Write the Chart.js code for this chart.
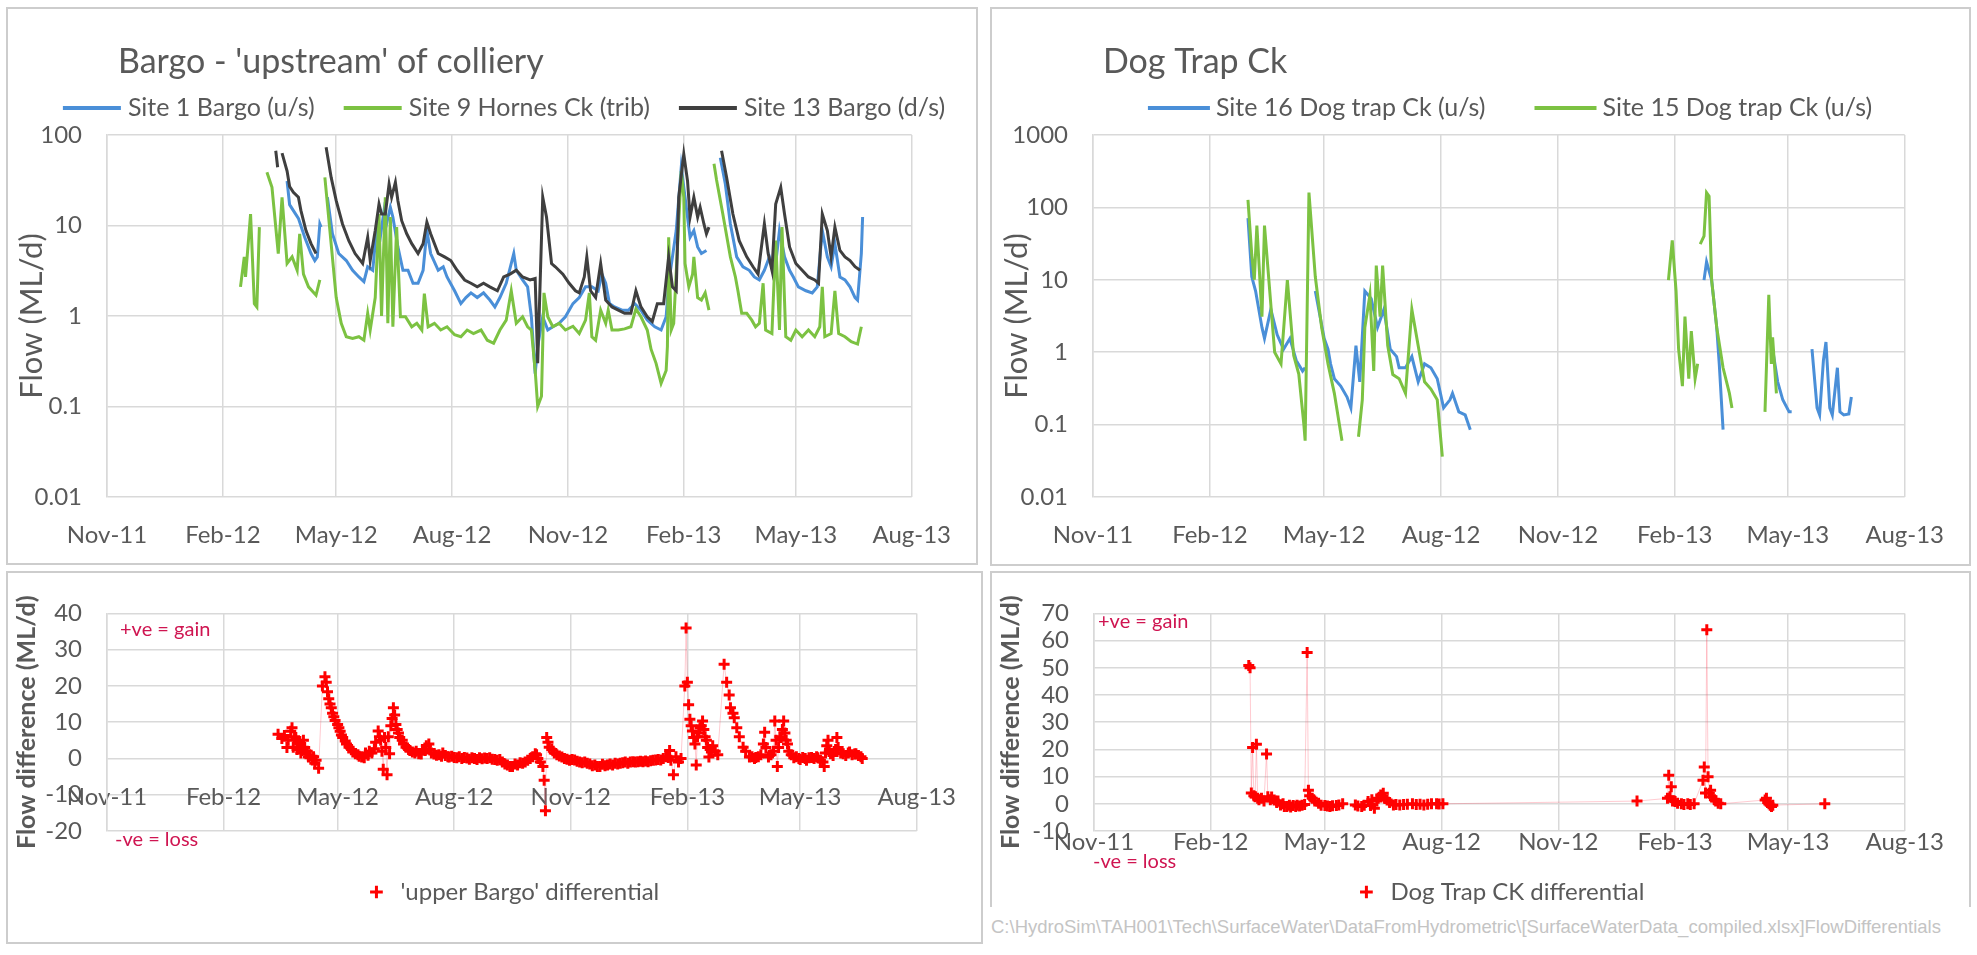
<!DOCTYPE html>
<html lang="en">
<head>
<meta charset="UTF-8">
<title>Flow differentials</title>
<script src="https://cdn.jsdelivr.net/npm/chart.js"></script>
<style>
  body { margin: 0; width: 1977px; height: 955px; background: #fff; position: relative; overflow: hidden; }
  .panel { position: absolute; border: 2px solid #cdcdcd; box-sizing: border-box; }
  canvas { position: absolute; }
  #footer { position: absolute; left: 991px; top: 916px; font: 18.5px 'Liberation Sans Narrow', 'Liberation Sans', sans-serif; color: #c4c4c4; white-space: nowrap; }
</style>
</head>
<body>
<div class="panel" style="left:6px;top:7px;width:972px;height:558px"></div>
<div class="panel" style="left:990px;top:7px;width:981px;height:559px"></div>
<div class="panel" style="left:6px;top:571px;width:977px;height:373px"></div>
<div class="panel" style="left:990px;top:571px;width:981px;height:336px;border-bottom:none"></div>

<canvas id="bargoFlow" width="966" height="552" style="left:9px;top:10px"></canvas>
<canvas id="dogFlow" width="974" height="552" style="left:994px;top:10px"></canvas>
<canvas id="bargoDiff" width="970" height="340" style="left:10px;top:574px"></canvas>
<canvas id="dogDiff" width="974" height="340" style="left:994px;top:574px"></canvas>

<div id="footer">C:\HydroSim\TAH001\Tech\SurfaceWater\DataFromHydrometric\[SurfaceWaterData_compiled.xlsx]FlowDifferentials</div>

<script>
    // x values are days counted from 1 Nov 2011
    const monthLabels = ['Nov-11', 'Feb-12', 'May-12', 'Aug-12', 'Nov-12', 'Feb-13', 'May-13', 'Aug-13'];
    const monthStarts = ['2011-11-01', '2012-02-01', '2012-05-01', '2012-08-01', '2012-11-01', '2013-02-01', '2013-05-01', '2013-08-01'];
    const bargoLogTicks = [0.01, 0.1, 1, 10, 100];
    const dogLogTicks = [0.01, 0.1, 1, 10, 100, 1000];

    // [day, ML/d] - null = no record
    const site1Bargo = [[143,31],[145,17],[148,14.6],[152,12],[157,7.4],[162,4.9],[165,4.1],[167,4.5],[169,10.4],[170,9.6],[172,null],
        [175,20.5],[179,8.1],[184,4.9],[190,4.1],[195,3.2],[200,2.7],[204,2.4],[207,3.5],[211,3.2],[214,8.8],[217,7.4],[220,14.6],[222,10.4],[225,15.9],[227,12.4],[231,5.8],[235,3.2],[239,3.2],[243,2.3],[247,2.3],[251,3.2],[254,8.8],[257,4.9],[263,3.2],[267,3.5],[270,2.7],[276,1.9],[281,1.37],[285,1.6],[289,1.8],[294,1.6],[299,1.8],[304,1.5],[308,1.26],[312,1.6],[317,2.3],[323,4.9],[325,3.2],[330,2.5],[334,2.1],[337,0.98],[340,0.23],[342,0.46],[346,0.98],[350,0.7],[354,0.76],[359,0.83],[364,0.98],[370,1.37],[375,1.6],[380,2.1],[385,2.1],[390,1.9],[393,2.9],[396,2.3],[399,1.37],[403,1.26],[409,1.16],[414,1.16],[419,1.37],[424,1.16],[429,0.9],[435,0.76],[440,0.7],[444,0.98],[446,2.3],[449,4.5],[452,8.8],[456,44],[459,20.5],[463,7.4],[466,8.8],[469,5.8],[472,4.9],[476,5.3],[481,null],
        [487,56],[491,28.7],[495,10.4],[500,4.5],[505,3.5],[510,3.2],[514,2.7],[518,2.5],[522,3.2],[526,4.5],[530,2.9],[534,8.8],[538,4.5],[542,3.2],[545,2.7],[549,2.1],[555,1.9],[560,1.8],[564,2.1],[568,8.8],[572,4.5],[575,3.5],[578,6.3],[582,2.7],[586,2.5],[590,2.1],[594,1.6],[596,1.5],[599,4.9],[600,12.4]];

    const site9Hornes = [[106,2.1],[109,4.5],[110,2.7],[114,13.4],[117,1.37],[119,1.26],[121,9.6],[124,null],
        [127,38.7],[131,26.4],[136,4.9],[139,20.5],[143,3.8],[147,4.5],[151,3.2],[153,8.1],[156,2.9],[160,2.1],[166,1.7],[169,2.5],[171,null],
        [173,34],[177,8.8],[182,1.6],[186,0.83],[190,0.59],[195,0.565],[200,0.59],[204,0.54],[207,1.07],[209,0.7],[213,1.6],[216,13.4],[218,1.0],[221,20.5],[223,0.83],[225,12.4],[227,0.76],[230,9.6],[233,0.98],[237,0.98],[242,0.76],[246,0.83],[250,0.7],[252,1.77],[255,0.76],[260,0.83],[265,0.7],[270,0.76],[276,0.62],[281,0.59],[286,0.7],[291,0.64],[297,0.7],[302,0.54],[307,0.5],[312,0.7],[317,0.9],[321,1.9],[325,0.83],[330,0.98],[334,0.76],[337,0.7],[340,0.25],[342,0.1],[345,0.13],[347,1.8],[350,0.98],[354,0.76],[359,0.83],[364,0.7],[370,0.77],[375,0.64],[380,0.9],[383,1.8],[385,0.59],[388,0.54],[392,1.16],[396,0.83],[398,1.16],[401,0.7],[406,0.7],[411,0.72],[416,0.76],[420,1.2],[424,0.98],[429,0.7],[432,0.43],[436,0.3],[440,0.18],[444,0.25],[445,0.46],[446,7.4],[448,0.7],[450,0.83],[456,40],[458,20.5],[459,3.8],[462,2.1],[465,2.9],[466,4.5],[469,1.6],[472,1.5],[475,1.8],[478,1.16],[480,null],
        [482,48],[484,32],[489,13.4],[495,4.5],[499,2.7],[501,1.9],[504,1.07],[508,1.07],[512,0.9],[515,0.76],[518,0.83],[521,2.3],[523,0.7],[528,0.64],[531,6.8],[534,0.7],[536,9.6],[539,0.59],[543,0.54],[547,0.7],[552,0.59],[557,0.7],[562,0.59],[566,0.76],[568,2.1],[570,0.59],[575,0.64],[578,1.9],[581,0.64],[586,0.59],[591,0.52],[596,0.49],[599,0.76]];

    const site13Bargo = [[134,67],[135.5,44],[137,null],[139,63],[143,40],[145,27],[148,23.3],[152,20.5],[154,14.6],[158,8.8],[162,6.3],[166,4.9],[170,null],
        [174,73],[178,34],[182,18.8],[187,10.4],[192,6.8],[197,4.9],[203,3.8],[207,7.4],[209,4.1],[213,8.8],[216,17.3],[218,13.4],[221,13.4],[224,28.7],[226,20.5],[229,30],[231,18.8],[234,11.3],[238,8.1],[242,6.3],[247,4.9],[251,6.3],[254,10.9],[257,8.1],[263,4.9],[268,4.5],[273,4.1],[278,3.2],[284,2.5],[289,2.3],[294,2.1],[299,2.3],[304,2.1],[310,1.9],[315,2.7],[320,2.9],[325,3.2],[330,2.7],[336,2.5],[340,2.6],[342,0.3],[346,20.5],[349,12.4],[353,3.8],[356,3.5],[362,2.9],[367,2.3],[372,1.9],[375,1.8],[379,2.7],[381,4.5],[384,1.9],[388,1.6],[392,3.8],[396,1.5],[401,1.26],[406,1.16],[411,1.07],[416,1.07],[420,1.9],[424,1.26],[429,0.98],[433,0.87],[437,1.37],[442,1.37],[446,4.5],[449,2.1],[452,1.9],[454,20.5],[458,61.5],[461,31],[463,12.4],[466,20.5],[469,12.4],[471,15.9],[474,10.4],[476,8.1],[478,9.6],[482,null],
        [488,67],[492,34],[497,13.4],[502,6.8],[508,4.5],[513,3.5],[517,2.9],[519,4.9],[522,10.4],[525,4.9],[528,3.2],[531,17.3],[535,26.4],[538,13.4],[542,5.8],[547,3.8],[552,3.2],[557,2.7],[562,2.5],[565,2.3],[568,13.4],[572,8.8],[575,4.5],[578,9.6],[582,5.3],[586,4.5],[590,4.1],[594,3.5],[598,3.2]];

    const site16DogTrap = [[122,71],[125,11],[128,7],[133,2.2],[135,1.55],[140,3.9],[145,1.74],[150,1.1],[155,1.55],[160,0.77],[165,0.55],[167,0.61],[171,null],
        [175,7],[182,1.55],[185,1.1],[187,0.69],[190,0.43],[195,0.34],[200,0.24],[203,0.17],[207,1.23],[210,0.39],[214,7],[219,5.5],[224,2.2],[229,3.9],[234,1.1],[239,0.87],[241,0.61],[246,0.61],[251,0.87],[256,0.39],[261,0.69],[266,0.61],[271,0.43],[276,0.17],[281,0.22],[283,0.27],[288,0.15],[293,0.136],[297,0.085],[300,null],
        [481,9.9],[483,17.7],[487,9.9],[491,2.2],[493,0.69],[496,0.085],[500,null],
        [535,1.1],[539,0.39],[543,0.22],[548,0.15],[550,0.15],[558,null],
        [566,1.1],[570,0.17],[572,0.136],[575,0.77],[577,1.38],[580,0.17],[582,0.136],[586,0.61],[588,0.15],[591,0.136],[595,0.14],[597,0.24]];

    const site15DogTrap = [[122,127],[125,22],[127,10],[129,56],[133,3.1],[135,56],[143,1.0],[148,0.69],[153,9.9],[158,0.9],[162,0.5],[166,0.1],[167,0.06],[170,160],[175,11],[180,2.2],[185,0.69],[190,0.27],[196,0.06],[202,null],
        [209,0.068],[212,0.22],[214,2.2],[218,6.2],[221,0.55],[223,15.7],[226,3.1],[228,15.7],[232,1.23],[236,0.49],[241,0.43],[246,0.27],[251,3.9],[256,1.23],[261,0.39],[266,0.31],[271,0.22],[275,0.036],[300,null],
        [453,9.9],[456,35],[459,7],[461,1.1],[464,0.34],[466,3.1],[469,0.43],[471,1.95],[474,0.43],[476,0.69],[477,null],
        [478,31],[481,40],[483,160],[485,143],[487,9.9],[491,2.2],[496,0.61],[501,0.27],[503,0.17],[515,null],
        [529,0.15],[532,6.2],[534,0.69],[535,1.6],[538,0.27]];

    const upperBargoDiff = [[135,6.7],[138,5.5],[140,6.3],[142,3],[143,5],[145,7.5],[146,8.5],[147,3.1],[148,6],[149,5.8],[150,2.5],[151,4.5],[152,4],[153,1.5],[154,2.2],[155,5],[156,3],[157,1.3],[158,2],[159,0.4],[160,1],[162,-0.4],[163,0.5],[164,-1.3],[165,-0.5],[167,-2.7],
        [170,20],[172,22.5],[173,21],[174,18.4],[175,16.5],[176,15],[177,14],[178,12.5],[179,11.5],[180,10.5],[182,9.4],[183,8.5],[184,7.5],[185,6.5],[186,5.8],[188,4.8],[189,4],[191,3.1],[193,2.5],[194,1.8],[196,1.3],[198,1],[199,0.6],[201,0.4],[203,0.2],[204,1.5],[206,0.9],[207,2],[209,1.5],[211,2.7],[212,4.5],[214,7.6],[215,6],[216,5],[217,2],[218,-3],[219,5.8],[220,3],[221,-4.5],[222,6],[223,1.3],[224,9],[225,11],[226,14],[227,12],[228,9.4],[229,8],[230,7],[231,5.8],[233,5],[234,4],[236,3.1],[238,2.5],[239,2.2],[241,1.8],[243,1.5],[244,2],[246,1.3],[248,1.2],[249,2.5],[251,2.2],[252,3.5],[254,4],[255,2.5],[256,1.5],[258,1.2],[260,0.9],[262,1],[264,0.6],[265,1.5],[267,0.8],[269,0.5],[270,0.4],[272,0.6],[274,0.3],[276,0.2],[278,0.5],[280,0],[282,0.3],[284,0.1],[286,-0.2],[288,0.2],[290,0],[292,-0.3],[294,0.2],[296,-0.1],[298,0.1],[300,0],[302,0.2],[304,-0.2],[306,-0.3],[308,-0.5],[310,-0.3],[312,-1],[314,-1.5],[316,-1.8],[318,-2.2],[320,-2.2],[322,-1.5],[324,-1.8],[326,-1.2],[328,-1.3],[330,-1],[332,-0.5],[334,0],[336,0.5],[338,1.3],[339,1],[340,0],[342,-1],[344,-2.2],[345,-6],[346,-14.4],[347,5.8],[348,4.5],[349,3.1],[351,2.5],[353,1.5],[355,1],[357,0.7],[359,0.4],[361,0],[363,-0.2],[365,-0.5],[367,-0.3],[369,-0.4],[371,-0.8],[373,-1],[375,-1.2],[377,-1],[379,-1.3],[381,-1.5],[383,-2],[385,-1.8],[387,-2.2],[389,-2.2],[391,-1.6],[393,-2],[395,-1.8],[397,-1.5],[399,-1.8],[401,-1.3],[403,-1.5],[405,-1.3],[407,-1.2],[409,-1],[411,-1.3],[413,-1],[415,-0.9],[417,-1],[419,-0.9],[421,-0.8],[423,-0.9],[425,-0.7],[427,-0.9],[429,-0.6],[431,-0.5],[433,-0.4],[435,-0.3],[437,-0.4],[439,0],[441,0.5],[443,0.3],[444,2.2],[445,-0.5],[447,-4.5],[449,0.5],[451,-1],[453,0],
        [456,20],[457,36],[458,21],[459,14.8],[460,10.8],[461,9],[462,7.6],[463,5.8],[464,4],[465,-1.8],[466,6],[467,7],[468,8.5],[469,9],[470,10.3],[471,8],[472,6],[473,5],[474,3],[475,0.4],[476,2.5],[477,1.8],[478,3.5],[480,2],[482,1],
        [487,26],[489,21],[491,17.5],[492,14],[494,12.5],[495,11.2],[497,8.5],[499,6],[502,3.1],[504,2],[507,0.4],[509,0.5],[511,0],[512,0.3],[514,0.5],[516,1],[518,4],[519,7.2],[520,3],[522,0.4],[524,1],[526,2],[527,10.3],[528,5],[529,-2.2],[530,3],[531,6],[532,5.8],[533,8],[534,10.3],[535,7],[536,5],[537,4],[538,2],[540,1],[542,0.2],[544,0.5],[546,0],[547,-0.3],[549,0.3],[551,0],[552,-0.5],[554,0.2],[556,0.3],[558,0],[560,0.5],[561,0.2],[563,-0.5],[565,-1],[566,-2.2],[567,1.5],[568,3.5],[569,5],[570,2],[571,1.3],[573,0.8],[575,2.5],[576,5.8],[577,3],[579,1.5],[581,1.3],[583,0.8],[585,1.5],[586,1.8],[588,1],[590,1.2],[591,1.3],[593,0.8],[595,0.5],[596,0]];

    const dogTrapDiff = [[122,50.8],[123,50],[124,4],[125,20.7],[126,3],[127,2.6],[128,21.9],[129,2],[130,1.5],[132,2],[134,1],[136,18.3],[137,2.6],[139,1.5],[140,2.5],[142,1.4],[144,0.5],[145,1],[147,-0.4],[149,0],[150,-1],[152,-1],[154,-0.5],[155,-1.2],[157,-0.6],[159,-1],[160,-0.5],[162,-0.8],[164,-0.5],[166,-0.3],[168,55.6],[169,5],[170,3],[172,2],[174,1],[177,0.2],[179,-0.5],[182,-0.6],[184,-0.8],[186,-1],[188,-0.7],[191,-0.6],[193,-0.4],[196,0],[206,-0.4],[208,-0.8],[211,-1],[213,-0.5],[216,0.8],[218,-0.6],[219,1.5],[221,-1.6],[223,1],[224,2],[226,3.2],[228,3.9],[229,2],[231,1.4],[233,0.5],[236,-0.4],[238,-0.3],[241,-0.4],[244,-0.3],[247,-0.2],[251,0],[254,-0.3],[257,-0.2],[260,-0.4],[263,-0.2],[266,0],[270,0],[272,-0.1],[275,0],[428,1],
        [452,2],[453,10.5],[454,2.6],[455,6.3],[456,1],[458,0.8],[460,0.2],[463,0],[465,-0.3],[468,0],[470,-0.3],[473,0],[480,8.7],[481,13.5],[482,4],[483,64],[484,9.9],[485,3.9],[486,5],[487,2.6],[489,1.5],[490,1],[492,0.2],[494,0],[529,1.4],[530,2],[531,0.5],[532,0],[533,-0.5],[534,-1],[535,-0.5],[576,0]];

    const GRID = '#d9d9d9';
    const TEXT = '#595959';
    const NOTE = '#cf1551';
    const FONT = 'Lato, "Open Sans", sans-serif';

    Chart.defaults.font.family = FONT;
    Chart.defaults.color = TEXT;
    Chart.defaults.animation = false;

    const tickDays = monthStarts.map(d => (Date.parse(d) - Date.parse(monthStarts[0])) / 864e5);
    const toXY = pairs => pairs.map(([x, y]) => ({ x, y }));

    // plain text written straight on the canvas (titles, gain/loss notes)
    const notesPlugin = {
        id: 'notes',
        afterDraw(chart, args, opts) {
            const ctx = chart.ctx;
            (opts.items || []).forEach(n => {
                ctx.save();
                ctx.font = `${n.size}px ${FONT}`;
                ctx.fillStyle = n.color;
                ctx.textBaseline = n.baseline || 'middle';
                ctx.fillText(n.text, n.x, n.y);
                ctx.restore();
            });
        }
    };

    // one-row legend with line swatches, centred on opts.cx
    const lineLegendPlugin = {
        id: 'lineLegend',
        afterDraw(chart, args, opts) {
            if (!opts.cx) return;
            const ctx = chart.ctx;
            ctx.save();
            ctx.font = `${opts.size}px ${FONT}`;
            const items = chart.data.datasets.map(ds => ({
                text: ds.label,
                color: ds.borderColor,
                w: opts.swatch + opts.textGap + ctx.measureText(ds.label).width
            }));
            const total = items.reduce((s, it) => s + it.w, 0) + opts.gap * (items.length - 1);
            let x = opts.cx - total / 2;
            items.forEach(it => {
                ctx.strokeStyle = it.color;
                ctx.lineWidth = 4;
                ctx.beginPath();
                ctx.moveTo(x, opts.y);
                ctx.lineTo(x + opts.swatch, opts.y);
                ctx.stroke();
                ctx.fillStyle = TEXT;
                ctx.textBaseline = 'middle';
                ctx.fillText(it.text, x + opts.swatch + opts.textGap, opts.y);
                x += it.w + opts.gap;
            });
            ctx.restore();
        }
    };

    function dayAxis(extra) {
        return Object.assign({
            type: 'linear',
            min: tickDays[0],
            max: tickDays[tickDays.length - 1],
            afterBuildTicks: s => { s.ticks = tickDays.map(v => ({ value: v })); },
            ticks: { autoSkip: false, maxRotation: 0, padding: 24, font: { size: 24 }, callback: (v, i) => monthLabels[i] },
            grid: { color: GRID, lineWidth: 1.5, drawTicks: false },
            border: { display: false }
        }, extra);
    }

    function flowAxis(tickVals, width) {
        return {
            type: 'logarithmic',
            min: tickVals[0],
            max: tickVals[tickVals.length - 1],
            afterBuildTicks: s => { s.ticks = tickVals.map(v => ({ value: v })); },
            afterFit: s => { s.width = width; },
            ticks: { autoSkip: false, padding: 25, font: { size: 24 }, callback: v => String(v) },
            grid: { color: GRID, lineWidth: 1.5, drawTicks: false },
            border: { color: GRID, width: 1.5 },
            title: { display: true, text: 'Flow (ML/d)', font: { size: 31 }, padding: { top: 4, bottom: 0 } }
        };
    }

    function diffAxis(min, max, width) {
        return {
            min: min,
            max: max,
            afterFit: s => { s.width = width; },
            ticks: { stepSize: 10, autoSkip: false, padding: 25, font: { size: 24 } },
            grid: { color: GRID, lineWidth: 1.5, drawTicks: false },
            border: { color: GRID, width: 1.5 },
            title: { display: true, text: 'Flow difference (ML/d)', font: { size: 25, weight: 'bold' }, padding: { top: 2, bottom: 0 } }
        };
    }

    function flowLine(label, pairs, color, order) {
        return {
            label: label, data: toXY(pairs), order: order,
            borderColor: color, backgroundColor: color, borderWidth: 3,
            pointRadius: 0, tension: 0, spanGaps: false
        };
    }

    function diffSeries(label, pairs) {
        return {
            label: label, data: toXY(pairs),
            showLine: true, borderColor: 'rgba(255, 70, 90, 0.28)', borderWidth: 1,
            pointStyle: 'cross', pointRadius: 5.5, pointBorderWidth: 3,
            pointBorderColor: '#ff0000', pointBackgroundColor: '#ff0000'
        };
    }

    const bottomLegend = {
        position: 'bottom', fullSize: false,
        labels: { usePointStyle: true, boxHeight: 9, padding: 49, font: { size: 24 }, color: TEXT }
    };

    new Chart(document.getElementById('bargoFlow'), {
        type: 'line',
        data: {
            datasets: [
                flowLine('Site 1 Bargo (u/s)', site1Bargo, '#4a8fd8', 3),
                flowLine('Site 9 Hornes Ck (trib)', site9Hornes, '#7cc242', 2),
                flowLine('Site 13 Bargo (d/s)', site13Bargo, '#3f3f3f', 1)
            ]
        },
        options: {
            responsive: false,
            layout: { padding: { top: 125, right: 50, bottom: 0, left: 0 } },
            scales: {
                x: dayAxis({ afterFit: s => { s.height = 65; } }),
                y: flowAxis(bargoLogTicks, 98)
            },
            plugins: {
                legend: { display: false },
                tooltip: { enabled: false },
                lineLegend: { cx: 495, y: 98, size: 25, swatch: 58, textGap: 7, gap: 29 },
                notes: { items: [{ text: "Bargo - 'upstream' of colliery", x: 109, y: 63, size: 34, color: TEXT, baseline: 'alphabetic' }] }
            }
        },
        plugins: [notesPlugin, lineLegendPlugin]
    });

    new Chart(document.getElementById('dogFlow'), {
        type: 'line',
        data: {
            datasets: [
                flowLine('Site 16 Dog trap Ck (u/s)', site16DogTrap, '#4a8fd8', 2),
                flowLine('Site 15 Dog trap Ck (u/s)', site15DogTrap, '#7cc242', 1)
            ]
        },
        options: {
            responsive: false,
            layout: { padding: { top: 125, right: 56, bottom: 0, left: 0 } },
            scales: {
                x: dayAxis({ afterFit: s => { s.height = 65; } }),
                y: flowAxis(dogLogTicks, 99)
            },
            plugins: {
                legend: { display: false },
                tooltip: { enabled: false },
                lineLegend: { cx: 516, y: 98, size: 25, swatch: 62, textGap: 6, gap: 49 },
                notes: { items: [{ text: 'Dog Trap Ck', x: 109, y: 63, size: 34, color: TEXT, baseline: 'alphabetic' }] }
            }
        },
        plugins: [notesPlugin, lineLegendPlugin]
    });

    new Chart(document.getElementById('bargoDiff'), {
        type: 'line',
        data: { datasets: [diffSeries("'upper Bargo' differential", upperBargoDiff)] },
        options: {
            responsive: false,
            layout: { padding: { top: 34, right: 55, bottom: 0, left: 0 } },
            scales: {
                x: dayAxis({ position: { y: 0 } }),
                y: diffAxis(-20, 40, 97)
            },
            plugins: {
                legend: bottomLegend,
                tooltip: { enabled: false },
                notes: { items: [
                    { text: '+ve = gain', x: 110, y: 56, size: 20, color: NOTE },
                    { text: '-ve = loss', x: 105, y: 266, size: 20, color: NOTE }
                ] }
            }
        },
        plugins: [notesPlugin]
    });

    new Chart(document.getElementById('dogDiff'), {
        type: 'line',
        data: { datasets: [diffSeries('Dog Trap CK differential', dogTrapDiff)] },
        options: {
            responsive: false,
            layout: { padding: { top: 34, right: 56, bottom: 0, left: 0 } },
            scales: {
                x: dayAxis({ position: { y: 0 } }),
                y: diffAxis(-10, 70, 100)
            },
            plugins: {
                legend: bottomLegend,
                tooltip: { enabled: false },
                notes: { items: [
                    { text: '+ve = gain', x: 104, y: 48, size: 20, color: NOTE },
                    { text: '-ve = loss', x: 99, y: 288, size: 20, color: NOTE }
                ] }
            }
        },
        plugins: [notesPlugin]
    });
</script>
</body>
</html>
